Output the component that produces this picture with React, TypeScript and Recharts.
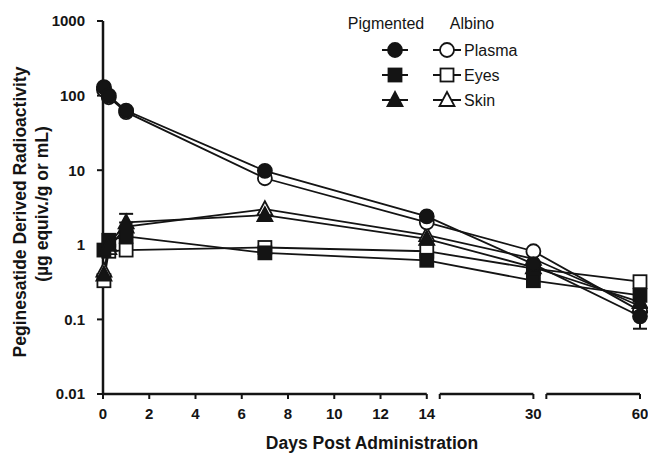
import React from 'react'
import { LineChart, Line, XAxis, YAxis, ReferenceLine, ErrorBar } from 'recharts'

// sampling times (days) and mean values (µg equiv./g or mL)
const days = [0.04, 0.25, 1, 7, 14, 30, 60]
const plasmaPigmented = [130, 100, 63, 9.8, 2.4, 0.55, 0.11]
const plasmaAlbino = [120, 95, 60, 7.8, 2.0, 0.82, 0.13]
const eyesPigmented = [0.85, 1.15, 1.3, 0.78, 0.62, 0.33, 0.21]
const eyesAlbino = [0.33, 0.82, 0.85, 0.92, 0.82, 0.48, 0.32]
const skinPigmented = [0.4, 1.0, 2.0, 2.5, 1.2, 0.5, 0.17]
const skinAlbino = [0.45, 0.9, 1.75, 3.0, 1.35, 0.65, 0.15]
// [below, above] error, only where it shows past the marker
const skinPigmentedErr = [null, null, [0.01, 0.6], null, null, null, null]
const plasmaPigmentedErr = [null, null, null, null, null, null, [0.035, 0.005]]

const xTickDays = [0, 2, 4, 6, 8, 10, 12, 14, 30, 60]
const yTicks = [0.01, 0.1, 1, 10, 100, 1000]

// broken x axis: 0-14 linear, then 14-30 and 30-60 squeezed
const segDays = [[0, 14], [14, 30], [30, 60]]
const segStart = [0, 14.56, 19.17]
const segLen = [14, 4.05, 4.05]
const xMax = segStart[2] + segLen[2]

function toAxis(d: number) {
  const i = d <= 14 ? 0 : d <= 30 ? 1 : 2
  const [a, b] = segDays[i]
  return segStart[i] + ((d - a) / (b - a)) * segLen[i]
}

const tickLabels = new Map<number, string>()
xTickDays.forEach(d => tickLabels.set(+toAxis(d).toFixed(3), String(d)))
const xTicks = [...xTickDays.map(toAxis), segStart[1], segStart[2]].sort((a, b) => a - b)

const data = days.map((d, i) => ({
  pos: toAxis(d),
  plasmaP: plasmaPigmented[i],
  plasmaA: plasmaAlbino[i],
  eyesP: eyesPigmented[i],
  eyesA: eyesAlbino[i],
  skinP: skinPigmented[i],
  skinA: skinAlbino[i],
  skinPErr: skinPigmentedErr[i],
  plasmaPErr: plasmaPigmentedErr[i],
}))

const INK = '#141414'
const FONT = '"Liberation Sans", Arial, sans-serif'

function Marker({ cx, cy, shape, filled }: { cx: number; cy: number; shape: string; filled: boolean }) {
  const fill = filled ? INK : '#fff'
  if (shape === 'circle') return <circle cx={cx} cy={cy} r={7} fill={fill} stroke={INK} strokeWidth={1.8} />
  if (shape === 'square')
    return <rect x={cx - 6.5} y={cy - 6.5} width={13} height={13} fill={fill} stroke={INK} strokeWidth={1.8} />
  return (
    <polygon
      points={`${cx},${cy - 8} ${cx + 7.5},${cy + 6} ${cx - 7.5},${cy + 6}`}
      fill={fill}
      stroke={INK}
      strokeWidth={1.8}
      strokeLinejoin="miter"
    />
  )
}

const dotFor = (shape: string, filled: boolean) => (p: any) => (
  <Marker key={`${shape}-${filled}-${p.index}`} cx={p.cx} cy={p.cy} shape={shape} filled={filled} />
)

const series = [
  { key: 'eyesA', shape: 'square', filled: false },
  { key: 'skinA', shape: 'triangle', filled: false },
  { key: 'plasmaA', shape: 'circle', filled: false },
  { key: 'eyesP', shape: 'square', filled: true },
  { key: 'skinP', shape: 'triangle', filled: true, err: 'skinPErr' },
  { key: 'plasmaP', shape: 'circle', filled: true, err: 'plasmaPErr' },
]

const legendRows = [
  { name: 'Plasma', shape: 'circle' },
  { name: 'Eyes', shape: 'square' },
  { name: 'Skin', shape: 'triangle' },
]

export default function App() {
  const tickStyle = { fill: INK, fontSize: 15, fontWeight: 700, fontFamily: FONT }
  return (
    <div style={{ position: 'absolute', left: 0, top: 0, width: 648, height: 454, background: '#fff' }}>
      <LineChart width={648} height={454} data={data} margin={{ top: 21, right: 8, left: 43, bottom: 30 }}>
        <XAxis
          type="number"
          dataKey="pos"
          domain={[0, xMax]}
          ticks={xTicks}
          interval={0}
          axisLine={false}
          tickLine={{ stroke: INK, strokeWidth: 2 }}
          tickSize={5}
          tickMargin={9}
          height={30}
          tick={tickStyle}
          tickFormatter={(v: number) => tickLabels.get(+v.toFixed(3)) ?? ''}
        />
        <YAxis
          scale="log"
          domain={[0.01, 1000]}
          ticks={yTicks}
          allowDataOverflow
          width={60}
          axisLine={{ stroke: INK, strokeWidth: 2.5 }}
          tickLine={{ stroke: INK, strokeWidth: 2 }}
          tickSize={6}
          tickMargin={12}
          tick={tickStyle}
          tickFormatter={(v: number) => String(v)}
        />
        {segDays.map((_, i) => (
          <ReferenceLine
            key={i}
            segment={[
              { x: segStart[i], y: 0.01 },
              { x: segStart[i] + segLen[i], y: 0.01 },
            ]}
            stroke={INK}
            strokeWidth={2.5}
            ifOverflow="visible"
          />
        ))}
        {series.map(s => (
          <Line
            key={s.key}
            type="linear"
            dataKey={s.key}
            stroke={INK}
            strokeWidth={1.8}
            dot={dotFor(s.shape, s.filled)}
            activeDot={false}
            isAnimationActive={false}
          >
            {s.err && <ErrorBar dataKey={s.err} direction="y" width={7} stroke={INK} strokeWidth={2} />}
          </Line>
        ))}
      </LineChart>
      <svg width={648} height={454} style={{ position: 'absolute', left: 0, top: 0, pointerEvents: 'none' }}>
        <g fontFamily={FONT} fontWeight={700} fontSize={17.5} fill={INK}>
          <text x={372} y={449} textAnchor="middle">Days Post Administration</text>
          <text transform="translate(26 212) rotate(-90)" textAnchor="middle">Peginesatide Derived Radioactivity</text>
          <text transform="translate(48 204) rotate(-90)" textAnchor="middle">(µg equiv./g or mL)</text>
        </g>
        <g fontFamily={FONT} fontSize={16} fill={INK}>
          <text x={386} y={29} textAnchor="middle">Pigmented</text>
          <text x={472} y={29} textAnchor="middle">Albino</text>
          {legendRows.map((r, i) => {
            const y = 50 + i * 25
            return (
              <g key={r.name}>
                <line x1={382} x2={408} y1={y} y2={y} stroke={INK} strokeWidth={2} />
                <Marker cx={395} cy={y} shape={r.shape} filled />
                <line x1={433} x2={461} y1={y} y2={y} stroke={INK} strokeWidth={2} />
                <Marker cx={447} cy={y} shape={r.shape} filled={false} />
                <text x={464} y={y + 5.5}>{r.name}</text>
              </g>
            )
          })}
        </g>
      </svg>
    </div>
  )
}
